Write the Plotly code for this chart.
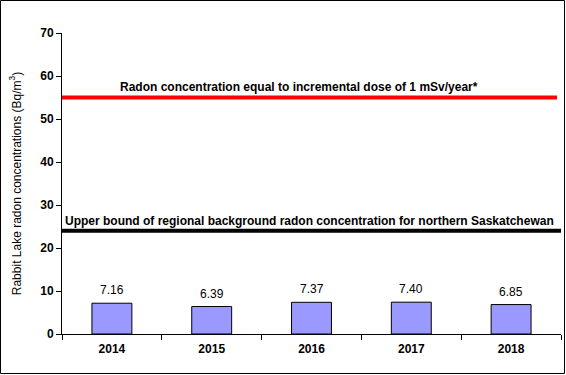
import plotly.graph_objects as go

years = ["2014", "2015", "2016", "2017", "2018"]
radon = [7.16, 6.39, 7.37, 7.40, 6.85]
dose_limit = 55
background_upper = 24
dose_label = "Radon concentration equal to incremental dose of 1 mSv/year*"
background_label = "Upper bound of regional background radon concentration for northern Saskatchewan"

FONT = "Arial, Liberation Sans, sans-serif"
W, H = 566, 375
L, R, T, B = 62, 5, 33, 41
pw, ph = W - L - R, H - T - B

fig = go.Figure()
fig.add_trace(go.Bar(
    x=years, y=radon,
    marker=dict(color="#9999FF", line=dict(color="black", width=1)),
    width=0.4,
    showlegend=False,
))
# value labels (category index positions on the category axis)
for i, v in enumerate(radon):
    fig.add_annotation(x=i, y=v, text=f"{v:.2f}", showarrow=False, yshift=13,
                       font=dict(family=FONT, size=12, color="black"))

fig.add_shape(type="line", xref="paper", yref="y", x0=0, x1=0.992,
              y0=dose_limit, y1=dose_limit, line=dict(color="#FF0000", width=4))
fig.add_shape(type="line", xref="paper", yref="y", x0=0, x1=1,
              y0=background_upper, y1=background_upper, line=dict(color="black", width=4))

fig.add_annotation(xref="paper", yref="y", x=0.475, y=dose_limit, yshift=11,
                   text=dose_label, showarrow=False,
                   font=dict(family=FONT, size=12, color="black", weight="bold"))
fig.add_annotation(xref="paper", yref="y", x=0.495, y=background_upper, yshift=10,
                   text=background_label, showarrow=False,
                   font=dict(family=FONT, size=12, color="black", weight="bold"))

# outer border
fig.add_shape(type="rect", xref="paper", yref="paper",
              x0=-(L - 0.5) / pw, x1=1 + (R - 1.5) / pw,
              y0=-(B - 1.5) / ph, y1=1 + (T - 0.5) / ph,
              line=dict(color="black", width=1))

fig.update_layout(
    width=W, height=H,
    margin=dict(l=L, r=R, t=T, b=B),
    paper_bgcolor="white", plot_bgcolor="white",
    font=dict(family=FONT, color="black"),
)
fig.update_xaxes(
    type="category", range=[-0.5, len(years) - 0.5],
    showline=True, linecolor="black", linewidth=1,
    ticks="outside", ticklen=5, tickcolor="black", tickson="boundaries",
    ticklabelstandoff=4,
    tickfont=dict(family=FONT, size=12, color="black", weight="bold"),
    showgrid=False,
)
fig.update_yaxes(
    range=[0, 70], dtick=10,
    showline=True, linecolor="black", linewidth=1,
    ticks="outside", ticklen=5, tickcolor="black",
    tickfont=dict(family=FONT, size=12, color="black", weight="bold"),
    showgrid=False, zeroline=False,
    title=dict(text="Rabbit Lake radon concentrations (Bq/m<sup>3</sup>)",
               font=dict(family=FONT, size=12, color="black"), standoff=16),
)

fig.write_html("out.html", config={"displayModeBar": False},
               post_script="document.body.style.margin='0';")
